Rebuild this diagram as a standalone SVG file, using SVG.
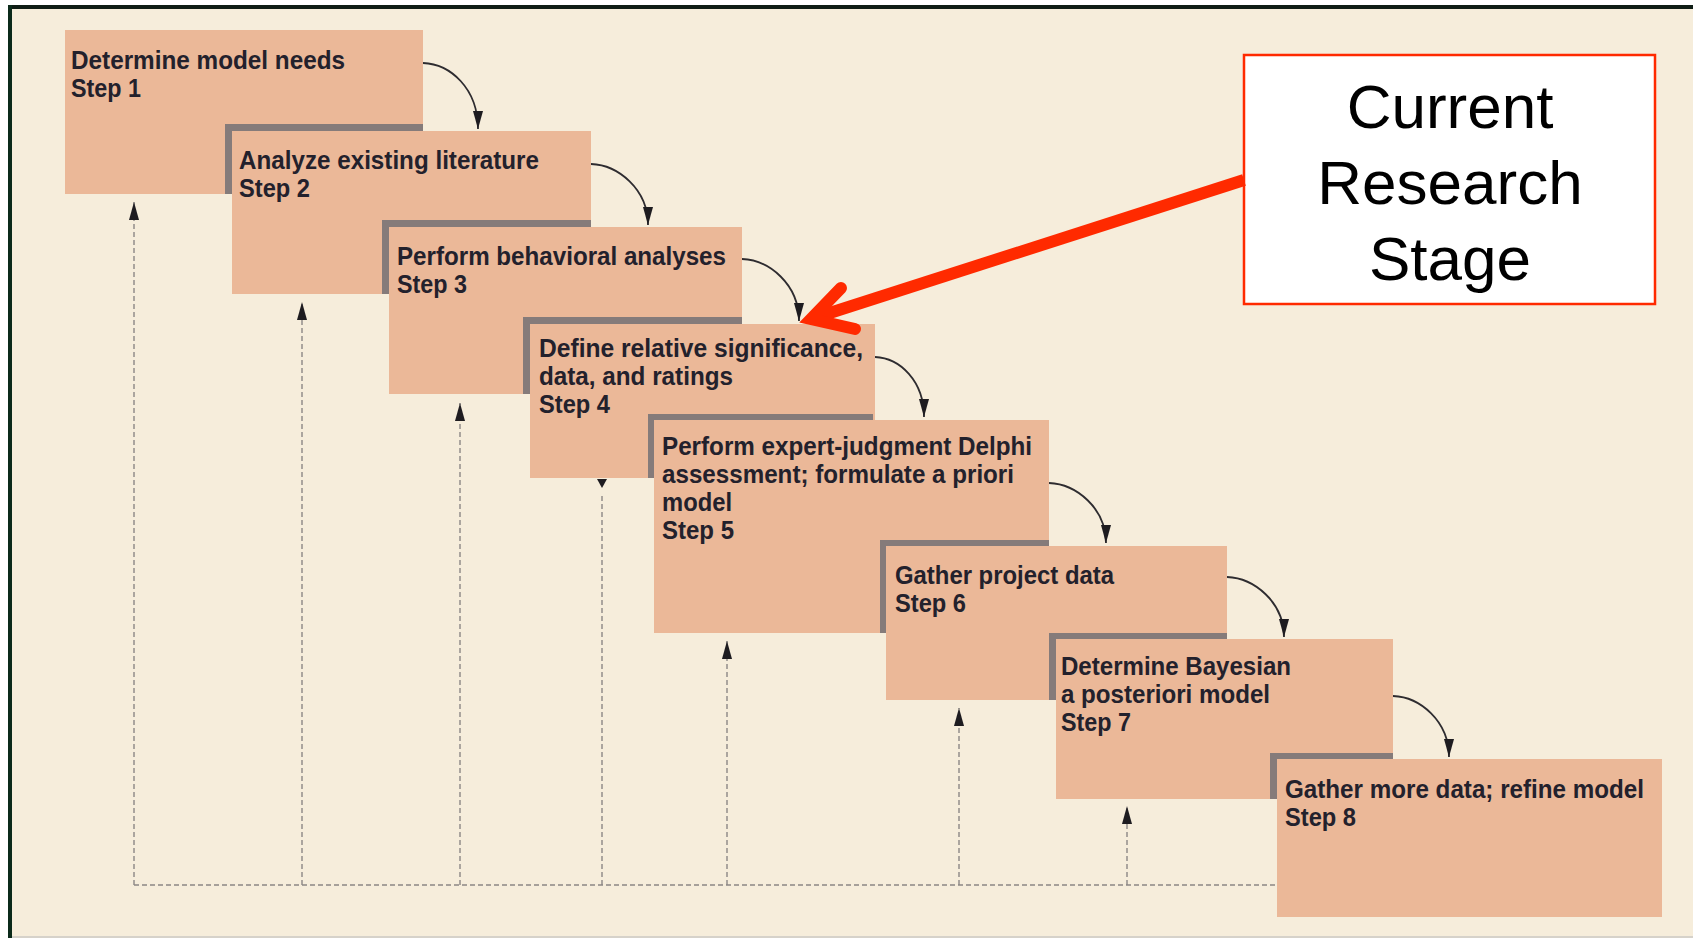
<svg xmlns="http://www.w3.org/2000/svg" width="1693" height="938" viewBox="0 0 1693 938">
  <style>
    .step { fill: #ebb898; }
    .shade { fill: #857b7a; }
    .lbl { font-family: "Liberation Sans", Arial, sans-serif; font-weight: bold; font-size: 26px; fill: #23212c; }
    .flow { fill: none; stroke: #2e2c30; stroke-width: 1.8; }
    .back { fill: none; stroke: #8c8785; stroke-width: 1.4; stroke-dasharray: 5 3; }
    .callout { font-family: "Liberation Sans", Arial, sans-serif; font-size: 62px; fill: #000; text-anchor: middle; }
  </style>
  <defs>
    <marker id="head" viewBox="0 0 18 10" refX="18" refY="5" markerWidth="18" markerHeight="10" markerUnits="userSpaceOnUse" orient="auto">
      <path d="M0,0 L18,5 L0,10 z" fill="#1e1c20"/>
    </marker>
  </defs>

  <!-- page and frame -->
  <rect x="0" y="0" width="1693" height="938" fill="#ffffff"/>
  <rect x="12" y="9" width="1681" height="927" fill="#f6eddb"/>
  <rect x="8" y="5" width="1685" height="4" fill="#0f1d15"/>
  <rect x="8" y="5" width="4" height="933" fill="#0b2a1a"/>
  <rect x="12" y="936" width="1681" height="2" fill="#d6d2ca"/>

  <!-- feedback connectors -->
  <g id="connectors">
    <path class="back" d="M134,885 L1277,885"/>
    <path class="back" d="M134,885 L134,202" marker-end="url(#head)"/>
    <path class="back" d="M302,885 L302,302" marker-end="url(#head)"/>
    <path class="back" d="M460,885 L460,403" marker-end="url(#head)"/>
    <path class="back" d="M602,885 L602,494"/>
    <polygon points="597,479 607,479 602,488" fill="#1e1c20"/>
    <path class="back" d="M727,885 L727,641" marker-end="url(#head)"/>
    <path class="back" d="M959,885 L959,708" marker-end="url(#head)"/>
    <path class="back" d="M1127,885 L1127,806" marker-end="url(#head)"/>
  </g>

  <g id="step1">
    <rect class="step" x="65" y="30" width="358" height="164"/>
    <text class="lbl" x="71" y="69" textLength="274" lengthAdjust="spacingAndGlyphs">Determine model needs</text>
    <text class="lbl" x="71" y="97" textLength="70" lengthAdjust="spacingAndGlyphs">Step 1</text>
  </g>

  <g id="step2">
    <rect class="shade" x="225" y="124" width="198" height="7"/>
    <rect class="shade" x="225" y="124" width="7" height="70"/>
    <rect class="step" x="232" y="131" width="359" height="163"/>
    <text class="lbl" x="239" y="169" textLength="300" lengthAdjust="spacingAndGlyphs">Analyze existing literature</text>
    <text class="lbl" x="239" y="197" textLength="71" lengthAdjust="spacingAndGlyphs">Step 2</text>
  </g>

  <g id="step3">
    <rect class="shade" x="382" y="220" width="209" height="7"/>
    <rect class="shade" x="382" y="220" width="7" height="74"/>
    <rect class="step" x="389" y="227" width="353" height="167"/>
    <text class="lbl" x="397" y="265" textLength="329" lengthAdjust="spacingAndGlyphs">Perform behavioral analyses</text>
    <text class="lbl" x="397" y="293" textLength="70" lengthAdjust="spacingAndGlyphs">Step 3</text>
  </g>

  <g id="step4">
    <rect class="shade" x="523" y="317" width="219" height="7"/>
    <rect class="shade" x="523" y="317" width="7" height="77"/>
    <rect class="step" x="530" y="324" width="345" height="154"/>
    <text class="lbl" x="539" y="357" textLength="324" lengthAdjust="spacingAndGlyphs">Define relative significance,</text>
    <text class="lbl" x="539" y="385" textLength="194" lengthAdjust="spacingAndGlyphs">data, and ratings</text>
    <text class="lbl" x="539" y="413" textLength="71" lengthAdjust="spacingAndGlyphs">Step 4</text>
  </g>

  <g id="step5">
    <rect class="shade" x="648" y="414" width="225" height="6"/>
    <rect class="shade" x="648" y="414" width="6" height="64"/>
    <rect class="step" x="654" y="420" width="395" height="213"/>
    <text class="lbl" x="662" y="455" textLength="370" lengthAdjust="spacingAndGlyphs">Perform expert-judgment Delphi</text>
    <text class="lbl" x="662" y="483" textLength="352" lengthAdjust="spacingAndGlyphs">assessment; formulate a priori</text>
    <text class="lbl" x="662" y="511" textLength="70" lengthAdjust="spacingAndGlyphs">model</text>
    <text class="lbl" x="662" y="539" textLength="72" lengthAdjust="spacingAndGlyphs">Step 5</text>
  </g>

  <g id="step6">
    <rect class="shade" x="880" y="540" width="169" height="6"/>
    <rect class="shade" x="880" y="540" width="6" height="93"/>
    <rect class="step" x="886" y="546" width="341" height="154"/>
    <text class="lbl" x="895" y="584" textLength="219" lengthAdjust="spacingAndGlyphs">Gather project data</text>
    <text class="lbl" x="895" y="612" textLength="71" lengthAdjust="spacingAndGlyphs">Step 6</text>
  </g>

  <g id="step7">
    <rect class="shade" x="1049" y="633" width="178" height="6"/>
    <rect class="shade" x="1049" y="633" width="7" height="67"/>
    <rect class="step" x="1056" y="639" width="337" height="160"/>
    <text class="lbl" x="1061" y="675" textLength="230" lengthAdjust="spacingAndGlyphs">Determine Bayesian</text>
    <text class="lbl" x="1061" y="703" textLength="209" lengthAdjust="spacingAndGlyphs">a posteriori model</text>
    <text class="lbl" x="1061" y="731" textLength="70" lengthAdjust="spacingAndGlyphs">Step 7</text>
  </g>

  <g id="step8">
    <rect class="shade" x="1270" y="753" width="123" height="6"/>
    <rect class="shade" x="1270" y="753" width="7" height="46"/>
    <rect class="step" x="1277" y="759" width="385" height="158"/>
    <text class="lbl" x="1285" y="798" textLength="359" lengthAdjust="spacingAndGlyphs">Gather more data; refine model</text>
    <text class="lbl" x="1285" y="826" textLength="71" lengthAdjust="spacingAndGlyphs">Step 8</text>
  </g>

  <!-- step-to-step flow arrows -->
  <g id="flow">
    <path class="flow" d="M423,63 C450,64 478,88 478,129" marker-end="url(#head)"/>
    <path class="flow" d="M591,164 C618,165 648,189 648,225" marker-end="url(#head)"/>
    <path class="flow" d="M742,259 C769,260 799,284 799,321" marker-end="url(#head)"/>
    <path class="flow" d="M875,357 C900,358 924,381 924,417" marker-end="url(#head)"/>
    <path class="flow" d="M1049,483 C1076,484 1106,508 1106,543" marker-end="url(#head)"/>
    <path class="flow" d="M1227,577 C1254,578 1284,602 1284,637" marker-end="url(#head)"/>
    <path class="flow" d="M1393,696 C1420,697 1449,721 1449,757" marker-end="url(#head)"/>
  </g>

  <!-- callout -->
  <g id="callout">
    <rect x="1244" y="55" width="411" height="249" fill="#ffffff" stroke="#ff2a00" stroke-width="2.5"/>
    <text class="callout" x="1450" y="128">Current</text>
    <text class="callout" x="1450" y="204">Research</text>
    <text class="callout" x="1450" y="280">Stage</text>
  </g>
  <g id="callout-arrow" fill="none" stroke="#ff2a00" stroke-width="12">
    <path d="M811,319 L1244,180"/>
    <path d="M841,288 L811,319 L855,329" stroke-linecap="round" stroke-linejoin="miter"/>
  </g>
</svg>
